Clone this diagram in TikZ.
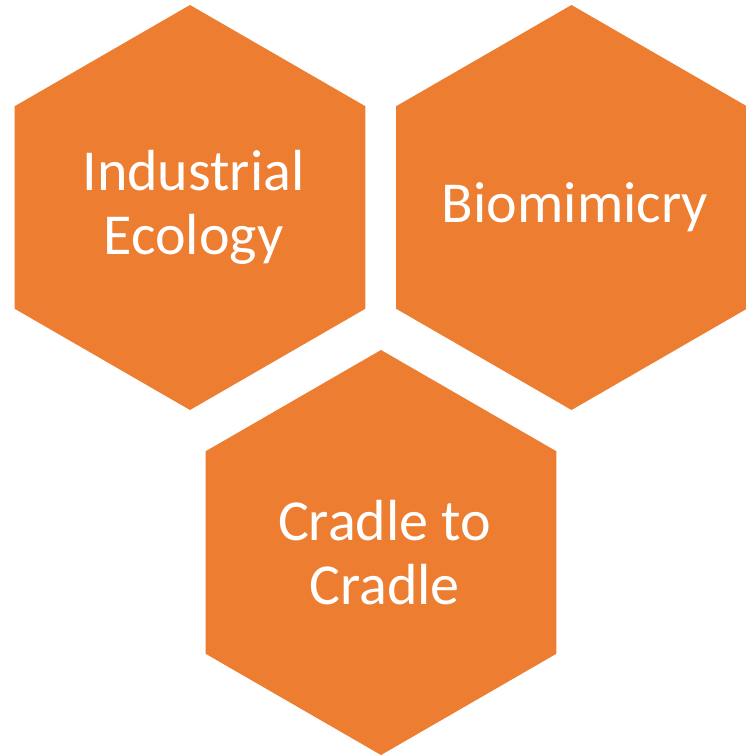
\documentclass[tikz,border=0pt]{standalone}
\usepackage{fontspec}
\setmainfont{Carlito}
\usetikzlibrary{shapes.geometric}
\definecolor{hexorange}{HTML}{ED7D31}

\begin{document}
\begin{tikzpicture}[x=1pt,y=-1pt,
    hexcell/.style={regular polygon, regular polygon sides=6, shape border rotate=30,
      minimum size=405pt, inner sep=0pt, fill=hexorange},
    hextext/.style={text=white, align=center, inner sep=0pt, xshift=3.5pt,
      font=\fontsize{58}{64}\selectfont}]
    \useasboundingbox (0,0) rectangle (746,755);

    \node[hexcell, label={[hextext]center:Industrial\\Ecology}] (ecology) at (190,207.5) {};
    \node[hexcell, label={[hextext]center:Biomimicry}] (biomimicry) at (571.5,207.5) {};
    \node[hexcell, label={[hextext]center:Cradle to\\Cradle}] (cradle) at (381,552.5) {};
\end{tikzpicture}
\end{document}
